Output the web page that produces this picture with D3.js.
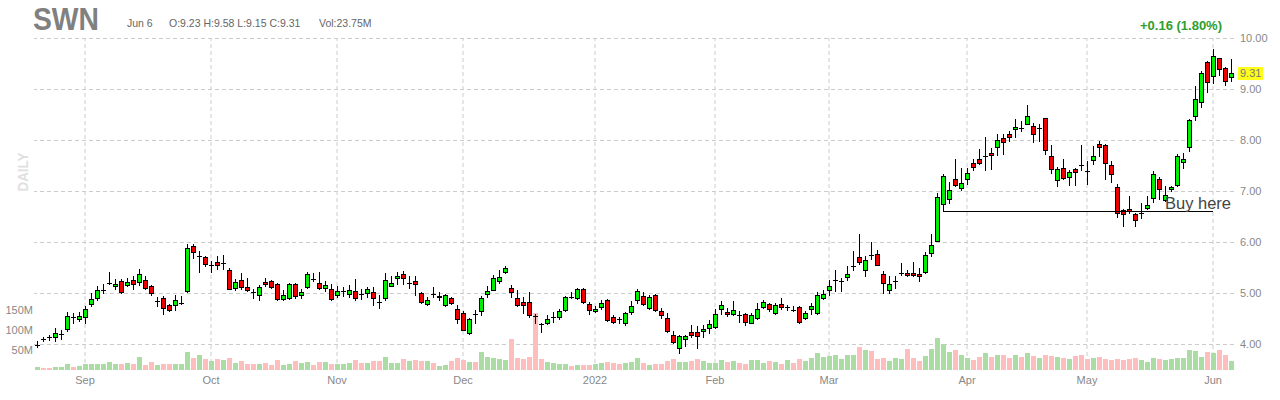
<!DOCTYPE html>
<html>
<head>
<meta charset="utf-8">
<script src="https://cdn.jsdelivr.net/npm/d3@7"></script>
<style>
  html, body { margin: 0; padding: 0; background: #fff; }
  svg { display: block; font-family: "Liberation Sans", Arial, sans-serif; }
</style>
</head>
<body>
<svg id="chart" width="1280" height="400"></svg>
<script>
// SWN daily candles, Aug 20 2021 - Jun 6 2022
// -----------------

var opens = [3.99,4.10,4.13,4.14,4.20,4.29,4.52,4.49,4.53,4.78,4.90,5.06,5.20,5.13,5.24,5.16,5.25,5.22,5.25,5.14,
  4.85,4.90,4.77,4.76,4.81,5.03,5.93,5.72,5.71,5.54,5.61,5.59,5.46,5.09,5.25,5.12,5.01,4.96,5.22,5.24,
  5.18,4.88,4.90,5.18,4.96,5.12,5.27,5.20,5.10,5.08,4.96,5.03,4.98,5.04,4.99,5.00,5.02,4.83,4.90,5.14,
  5.29,5.37,5.20,5.24,5.00,4.78,4.98,4.92,4.76,4.90,4.69,4.61,4.22,4.58,4.64,4.98,5.06,5.23,5.41,5.10,
  4.90,4.82,4.82,4.54,4.39,4.41,4.53,4.53,4.67,4.93,4.90,5.08,4.78,4.65,4.72,4.86,4.53,4.49,4.41,4.62,
  4.86,4.95,4.71,4.97,4.64,4.51,4.18,3.93,4.10,4.24,4.24,4.25,4.31,4.33,4.69,4.63,4.58,4.57,4.59,4.42,
  4.51,4.73,4.78,4.61,4.78,4.73,4.67,4.73,4.51,4.69,4.61,4.90,5.05,5.26,5.24,5.31,5.52,5.71,5.46,5.75,
  5.77,5.37,5.05,5.23,5.39,5.39,5.40,5.38,5.41,5.79,6.02,6.74,6.85,7.23,7.06,7.24,7.54,7.62,7.69,7.75,
  7.87,8.03,8.11,8.21,8.24,8.31,8.28,8.23,8.44,7.69,7.21,7.46,7.27,7.44,7.51,7.39,7.61,7.93,7.90,7.50,
  7.08,6.62,6.65,6.55,6.57,6.67,6.87,7.24,6.82,7.04,7.12,7.57,7.87,8.47,8.75,9.52,9.26,9.61,9.41,9.23];

var highs = [4.05,4.14,4.18,4.31,4.28,4.62,4.61,4.62,4.74,5.00,5.13,5.18,5.42,5.27,5.27,5.29,5.33,5.47,5.33,5.16,
  4.93,4.95,4.79,4.96,4.95,5.97,5.97,5.82,5.73,5.62,5.72,5.75,5.49,5.27,5.39,5.29,5.07,5.16,5.29,5.26,
  5.20,5.05,5.20,5.20,5.08,5.41,5.39,5.41,5.23,5.18,5.13,5.11,5.16,5.27,5.08,5.11,5.11,4.97,5.39,5.34,
  5.42,5.44,5.33,5.33,5.01,4.92,5.11,5.02,4.98,4.93,4.77,4.64,4.51,4.67,4.95,5.13,5.36,5.46,5.52,5.16,
  5.05,4.93,5.01,4.59,4.41,4.56,4.62,4.69,4.95,5.01,5.10,5.10,4.82,4.75,4.87,4.88,4.56,4.53,4.62,4.84,
  5.07,5.01,4.97,4.99,4.71,4.61,4.25,4.18,4.18,4.38,4.35,4.38,4.48,4.69,4.84,4.71,4.84,4.64,4.61,4.61,
  4.80,4.86,4.80,4.80,4.90,4.77,4.75,4.75,4.65,4.80,5.01,5.05,5.25,5.46,5.30,5.52,5.83,6.15,5.72,6.00,
  5.85,5.43,5.33,5.33,5.58,5.46,5.60,5.49,5.80,6.15,6.97,7.33,7.17,7.62,7.46,7.46,7.62,7.82,8.05,7.85,
  8.11,8.11,8.18,8.41,8.37,8.68,8.34,8.31,8.44,7.91,7.48,7.63,7.42,7.46,7.90,7.59,7.88,7.98,7.93,7.59,
  7.13,6.65,6.90,6.57,6.77,6.91,7.39,7.28,7.10,7.10,7.73,7.75,8.42,9.06,9.35,9.54,9.78,9.61,9.44,9.58];

var lows = [3.94,4.05,4.07,4.05,4.10,4.25,4.41,4.46,4.42,4.75,4.86,5.00,5.18,5.07,5.00,5.13,5.08,5.16,5.08,4.97,
  4.75,4.59,4.65,4.67,4.79,5.01,5.69,5.42,5.52,5.42,5.47,5.47,5.07,5.05,5.08,5.03,4.90,4.87,5.13,5.10,
  4.86,4.86,4.88,4.90,4.90,5.10,5.23,5.07,5.03,4.87,4.92,4.95,4.93,4.86,4.88,4.93,4.77,4.71,4.86,5.13,
  5.18,5.18,5.10,4.97,4.80,4.77,4.92,4.87,4.75,4.78,4.41,4.27,4.19,4.41,4.56,4.93,5.05,5.20,5.39,4.92,
  4.74,4.61,4.53,4.41,4.23,4.40,4.44,4.50,4.64,4.90,4.88,4.80,4.59,4.62,4.69,4.46,4.42,4.42,4.37,4.59,
  4.80,4.77,4.69,4.64,4.51,4.23,4.02,3.82,3.97,4.14,3.92,4.14,4.22,4.31,4.58,4.54,4.56,4.44,4.37,4.41,
  4.49,4.71,4.64,4.58,4.69,4.66,4.64,4.41,4.49,4.58,4.59,4.88,4.97,5.03,5.03,5.26,5.46,5.56,5.33,5.66,
  5.54,5.00,5.00,5.10,5.36,5.33,5.33,5.23,5.39,5.72,6.02,6.63,6.77,7.10,7.02,7.13,7.42,7.52,7.42,7.44,
  7.70,7.72,7.98,8.05,8.18,8.31,7.96,7.98,7.72,7.35,7.10,7.23,7.11,7.11,7.42,7.13,7.52,7.69,7.23,7.17,
  6.49,6.31,6.57,6.31,6.47,6.65,6.78,6.85,6.80,7.00,7.10,7.46,7.78,8.39,8.65,8.95,9.12,9.28,9.07,9.15];

var closes = [3.99,4.099,4.129,4.22,4.20,4.54,4.519,4.55,4.69,4.89,5.06,5.06,5.20,5.18,5.01,5.22,5.18,5.38,5.10,5.00,
  4.85,4.71,4.67,4.86,4.81,5.88,5.81,5.72,5.56,5.54,5.54,5.59,5.08,5.22,5.12,5.05,5.009,5.12,5.18,5.12,
  4.88,4.96,5.18,4.95,5.01,5.38,5.269,5.09,5.16,4.88,5.03,5.03,5.06,4.90,4.989,5.08,4.90,4.829,5.25,5.20,
  5.34,5.29,5.20,5.18,4.83,4.86,4.979,4.95,4.96,4.80,4.49,4.27,4.50,4.579,4.90,5.04,5.29,5.32,5.50,5.02,
  4.76,4.76,4.56,4.539,4.389,4.49,4.53,4.65,4.92,4.929,5.08,4.82,4.67,4.69,4.81,4.47,4.44,4.489,4.61,4.75,
  5.04,4.79,4.92,4.66,4.56,4.25,4.03,4.15,4.15,4.17,4.16,4.29,4.39,4.59,4.76,4.58,4.66,4.569,4.43,4.56,
  4.69,4.82,4.69,4.77,4.73,4.73,4.669,4.44,4.61,4.75,4.97,4.99,5.14,5.26,5.24,5.38,5.52,5.60,5.64,5.749,
  5.54,5.20,5.18,5.23,5.39,5.35,5.35,5.33,5.75,5.95,6.89,7.29,7.01,7.12,7.16,7.36,7.47,7.55,7.69,7.70,
  8.00,7.97,8.05,8.26,8.239,8.48,8.12,8.23,7.80,7.44,7.44,7.26,7.37,7.37,7.509,7.389,7.69,7.87,7.55,7.33,
  6.56,6.54,6.60,6.44,6.57,6.73,7.33,7.03,6.93,7.08,7.69,7.63,8.39,8.81,9.31,9.14,9.64,9.39,9.15,9.31];

// volume in millions
var volumes = [8,6,6,7,8,14,8,9,14,14,14,14,19,14,16,17,14,32,12,19,
  12,14,14,14,14,44,30,37,27,22,27,25,29,17,22,14,14,14,17,12,
  24,12,14,22,17,19,12,21,21,16,16,16,17,24,17,17,22,22,32,17,
  18,27,22,26,23,22,17,10,13,22,31,25,20,20,44,32,30,27,26,77,
  29,27,32,143,27,20,18,16,14,10,13,13,13,14,17,20,18,15,18,19,
  31,17,12,14,14,22,27,20,20,22,27,22,17,17,24,20,22,17,14,24,
  24,17,22,20,14,24,17,27,22,29,42,33,35,37,27,38,37,57,49,48,
  27,29,22,29,27,52,29,22,34,52,79,66,45,49,37,29,24,32,42,32,
  37,37,29,37,32,42,34,29,37,34,32,29,27,34,37,27,29,32,27,24,
  27,24,27,29,24,19,29,27,24,27,29,29,49,47,32,44,42,49,37,23.75];

var monthLabels = ["Sep", "Oct", "Nov", "Dec", "2022", "Feb", "Mar", "Apr", "May", "Jun"];
var monthStarts = [8, 29, 50, 71, 93, 113, 132, 155, 175, 196];

var priceTicks = [4, 5, 6, 7, 8, 9, 10];
var volumeTicks = [50, 100, 150];

var lastDate = "Jun 6";
var lastChange = 0.16, lastChangePct = 1.80;

var buyLevel = 6.61, buyFrom = 151, buyTo = 196;

var svg = d3.select("#chart");
var last = closes.length - 1;

// Scales
var x = d3.scaleBand().domain(d3.range(closes.length)).range([34, 1234]);
var y = d3.scaleLinear().domain([4, 10]).range([344, 38]);
var yVol = d3.scaleLinear().domain([0, 150]).range([370, 310]);

function cx(i) { return x(i) + x.bandwidth() / 2; }
function crisp(v) { return Math.round(v) + 0.5; }

// Price grid + right labels
var yAxis = svg.append("g")
  .attr("transform", "translate(1234,0)")
  .call(d3.axisRight(y).tickValues(priceTicks).tickSize(-1200).tickPadding(6).tickFormat(d3.format(".2f")));
yAxis.select(".domain").remove();
yAxis.selectAll("line").attr("stroke", "#cccccc").attr("stroke-dasharray", "4,3");
yAxis.selectAll("text").attr("fill", "#888").style("font-size", "11px").style("font-family", "Liberation Sans, Arial, sans-serif");

// Month grid + labels
var xAxis = svg.append("g")
  .attr("transform", "translate(0,370)")
  .call(d3.axisBottom(x).tickValues(monthStarts).tickSize(-332).tickPadding(6)
    .tickFormat(function(d) { return monthLabels[monthStarts.indexOf(d)]; }));
xAxis.select(".domain").remove();
xAxis.selectAll("line").attr("stroke", "#cccccc").attr("stroke-dasharray", "4,3");
xAxis.selectAll("text").attr("fill", "#888").style("font-size", "11px").style("font-family", "Liberation Sans, Arial, sans-serif");

// Volume labels
var vAxis = svg.append("g")
  .attr("transform", "translate(35,0)")
  .call(d3.axisLeft(yVol).tickValues(volumeTicks).tickSize(0).tickPadding(2)
    .tickFormat(function(d) { return d + "M"; }));
vAxis.select(".domain").remove();
vAxis.selectAll("text").attr("fill", "#888").style("font-size", "11px").style("font-family", "Liberation Sans, Arial, sans-serif");

// Volume bars
svg.append("g").selectAll("rect")
  .data(volumes)
  .enter().append("rect")
  .attr("x", function(d, i) { return cx(i) - 2; })
  .attr("width", 5)
  .attr("y", function(d) { return Math.round(yVol(d)); })
  .attr("height", function(d) { return 370 - Math.round(yVol(d)); })
  .attr("fill", function(d, i) { return closes[i] >= opens[i] ? "#aadca4" : "#ffbebe"; });

// Candles
var candle = svg.append("g").selectAll("g")
  .data(closes)
  .enter().append("g");

candle.append("line")
  .attr("x1", function(d, i) { return cx(i) + 0.5; })
  .attr("x2", function(d, i) { return cx(i) + 0.5; })
  .attr("y1", function(d, i) { return Math.round(y(highs[i])); })
  .attr("y2", function(d, i) { return Math.round(y(lows[i])) + 1; })
  .attr("stroke", "#000");

candle.each(function(d, i) {
  var g = d3.select(this),
      top = Math.round(y(Math.max(opens[i], d))),
      bot = Math.round(y(Math.min(opens[i], d)));
  if (Math.abs(d - opens[i]) < 0.005) {
    // doji: plain cross
    g.append("line")
      .attr("x1", cx(i) - 2).attr("x2", cx(i) + 3)
      .attr("y1", top + 0.5).attr("y2", top + 0.5)
      .attr("stroke", "#000");
  } else {
    g.append("rect")
      .attr("x", cx(i) - 1.5)
      .attr("width", 4)
      .attr("y", top + 0.5)
      .attr("height", Math.max(1, bot - top))
      .attr("fill", d >= opens[i] ? "#00ee00" : "#ee0000")
      .attr("stroke", "#000");
  }
});

// Buy here annotation
svg.append("line")
  .attr("x1", cx(buyFrom)).attr("x2", cx(buyTo))
  .attr("y1", crisp(y(buyLevel))).attr("y2", crisp(y(buyLevel)))
  .attr("stroke", "#000");

svg.append("text")
  .attr("x", 1165).attr("y", crisp(y(buyLevel)) - 3)
  .attr("fill", "#444")
  .style("font-size", "16.5px")
  .text("Buy here");

// Header
svg.append("text")
  .attr("x", 33).attr("y", 30)
  .attr("fill", "#808080")
  .attr("textLength", 66).attr("lengthAdjust", "spacingAndGlyphs")
  .style("font-size", "31px").style("font-weight", "bold")
  .text("SWN");

var info = svg.append("g").attr("fill", "#666").style("font-size", "10.5px");
info.append("text").attr("x", 127).attr("y", 27).text(lastDate);
info.append("text").attr("x", 169).attr("y", 27)
  .text("O:" + opens[last].toFixed(2) + " H:" + highs[last].toFixed(2) +
        " L:" + lows[last].toFixed(2) + " C:" + closes[last].toFixed(2));
info.append("text").attr("x", 319).attr("y", 27).text("Vol:" + volumes[last].toFixed(2) + "M");

svg.append("text")
  .attr("x", 1222).attr("y", 30)
  .attr("text-anchor", "end")
  .attr("fill", "#2e9e2e")
  .style("font-size", "13px").style("font-weight", "bold")
  .text("+" + lastChange.toFixed(2) + " (" + lastChangePct.toFixed(2) + "%)");

// Last price tag
var yl = y(closes[last]);
svg.append("rect")
  .attr("x", 1238).attr("y", Math.round(yl) - 6)
  .attr("width", 25).attr("height", 13)
  .attr("fill", "#ffff1a");
svg.append("text")
  .attr("x", 1240).attr("y", yl)
  .attr("dy", "0.35em")
  .attr("fill", "#777")
  .style("font-size", "11px")
  .text(closes[last].toFixed(2));

// Side label
svg.append("text")
  .attr("transform", "translate(23,172) rotate(-90)")
  .attr("text-anchor", "middle")
  .attr("dy", "0.35em")
  .attr("fill", "#e0e0e0")
  .attr("textLength", 39).attr("lengthAdjust", "spacingAndGlyphs")
  .style("font-size", "15px").style("font-weight", "bold")
  .text("DAILY");
</script>
</body>
</html>
